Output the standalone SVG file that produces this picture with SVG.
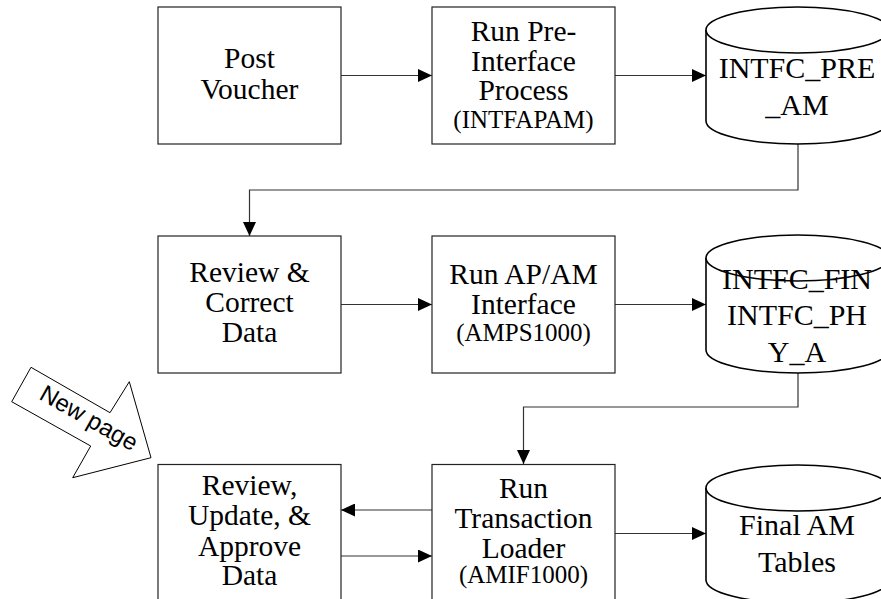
<svg xmlns="http://www.w3.org/2000/svg" width="881" height="599" viewBox="0 0 881 599">
  <defs>
    <marker id="head" markerUnits="userSpaceOnUse" markerWidth="15" markerHeight="13" refX="14" refY="6.5" orient="auto">
      <path d="M0,0 L14,6.5 L0,13 Z" fill="#000"/>
    </marker>
  </defs>
  <style>
    .box { fill: #fff; stroke: #222; stroke-width: 1.2; }
    .db { fill: #fff; stroke: #000; stroke-width: 1.6; }
    .t { font-family: 'Liberation Serif', 'Times New Roman', serif; font-size: 29.5px; fill: #000; text-anchor: middle; }
    .s { font-size: 25px; }
    .c { font-size: 30px; }
    .link { fill: none; stroke: #333; stroke-width: 1.2; }
    .sign { fill: #fff; stroke: #000; stroke-width: 1; }
    .signtext { font-family: 'Liberation Sans', Arial, sans-serif; font-size: 24px; fill: #000; text-anchor: middle; }
  </style>
  <rect width="881" height="599" fill="#fff"/>

  <!-- connectors -->
  <g id="connectors">
    <line class="link" x1="341" y1="75.5" x2="432" y2="75.5" marker-end="url(#head)"/>
    <line class="link" x1="615" y1="75.5" x2="706" y2="75.5" marker-end="url(#head)"/>
    <polyline class="link" points="798,144 798,190 249.5,190 249.5,236" marker-end="url(#head)"/>
    <line class="link" x1="341" y1="304.5" x2="432" y2="304.5" marker-end="url(#head)"/>
    <line class="link" x1="615" y1="304.5" x2="706" y2="304.5" marker-end="url(#head)"/>
    <polyline class="link" points="798,373 798,407 523.5,407 523.5,464" marker-end="url(#head)"/>
    <line class="link" x1="432" y1="510" x2="341" y2="510" marker-end="url(#head)"/>
    <line class="link" x1="341" y1="556" x2="432" y2="556" marker-end="url(#head)"/>
    <line class="link" x1="615" y1="533.5" x2="706" y2="533.5" marker-end="url(#head)"/>
  </g>

  <!-- row 1 -->
  <g id="post-voucher">
    <rect class="box" x="158" y="7" width="183" height="137"/>
    <text class="t" x="249.5" y="68">Post</text>
    <text class="t" x="249.5" y="99">Voucher</text>
  </g>
  <g id="pre-interface">
    <rect class="box" x="432" y="7" width="183" height="137"/>
    <text class="t" x="523.5" y="40.5">Run Pre-</text>
    <text class="t" x="523.5" y="70.5">Interface</text>
    <text class="t" x="523.5" y="100">Process</text>
    <text class="t s" x="523.5" y="128">(INTFAPAM)</text>
  </g>
  <g id="intfc-pre-am">
    <path class="db" d="M706,30 L706,121 A91.5,23 0 0 0 889,121 L889,30"/>
    <ellipse class="db" cx="797.5" cy="30" rx="91.5" ry="23"/>
    <text class="t c" x="797" y="78">INTFC_PRE</text>
    <text class="t c" x="797" y="115">_AM</text>
  </g>

  <!-- row 2 -->
  <g id="review-correct">
    <rect class="box" x="158" y="236" width="183" height="137"/>
    <text class="t" x="249.5" y="281.5">Review &amp;</text>
    <text class="t" x="249.5" y="311.5">Correct</text>
    <text class="t" x="249.5" y="342">Data</text>
  </g>
  <g id="ap-am-interface">
    <rect class="box" x="432" y="236" width="183" height="137"/>
    <text class="t" x="523.5" y="283.5">Run AP/AM</text>
    <text class="t" x="523.5" y="314">Interface</text>
    <text class="t s" x="523.5" y="341">(AMPS1000)</text>
  </g>
  <g id="intfc-fin-phy">
    <path class="db" d="M706,258 L706,350 A91.5,23 0 0 0 889,350 L889,258"/>
    <ellipse class="db" cx="797.5" cy="258" rx="91.5" ry="23"/>
    <text class="t c" x="797" y="289">INTFC_FIN</text>
    <text class="t c" x="797" y="325">INTFC_PH</text>
    <text class="t c" x="797" y="361.5">Y_A</text>
  </g>

  <!-- row 3 -->
  <g id="review-approve">
    <rect class="box" x="158" y="464.5" width="183" height="140"/>
    <text class="t" x="249.5" y="495">Review,</text>
    <text class="t" x="249.5" y="525">Update, &amp;</text>
    <text class="t" x="249.5" y="556">Approve</text>
    <text class="t" x="249.5" y="585">Data</text>
  </g>
  <g id="transaction-loader">
    <rect class="box" x="432" y="464.5" width="183" height="140"/>
    <text class="t" x="523.5" y="497.5">Run</text>
    <text class="t" x="523.5" y="527.5">Transaction</text>
    <text class="t" x="523.5" y="557.5">Loader</text>
    <text class="t s" x="523.5" y="582.5">(AMIF1000)</text>
  </g>
  <g id="final-am-tables">
    <path class="db" d="M706,488 L706,580 A91.5,23 0 0 0 889,580 L889,488"/>
    <ellipse class="db" cx="797.5" cy="488" rx="91.5" ry="23"/>
    <text class="t c" x="797" y="535">Final AM</text>
    <text class="t c" x="797" y="571.5">Tables</text>
  </g>

  <!-- page-break marker -->
  <g id="new-page">
    <polygon class="sign" points="11.7,401.7 31,367.3 110,412.7 129.3,381.7 151,457.7 72.7,477.7 90.7,446"/>
    <text class="signtext" transform="translate(85,425) rotate(29.5)">New page</text>
  </g>
</svg>
